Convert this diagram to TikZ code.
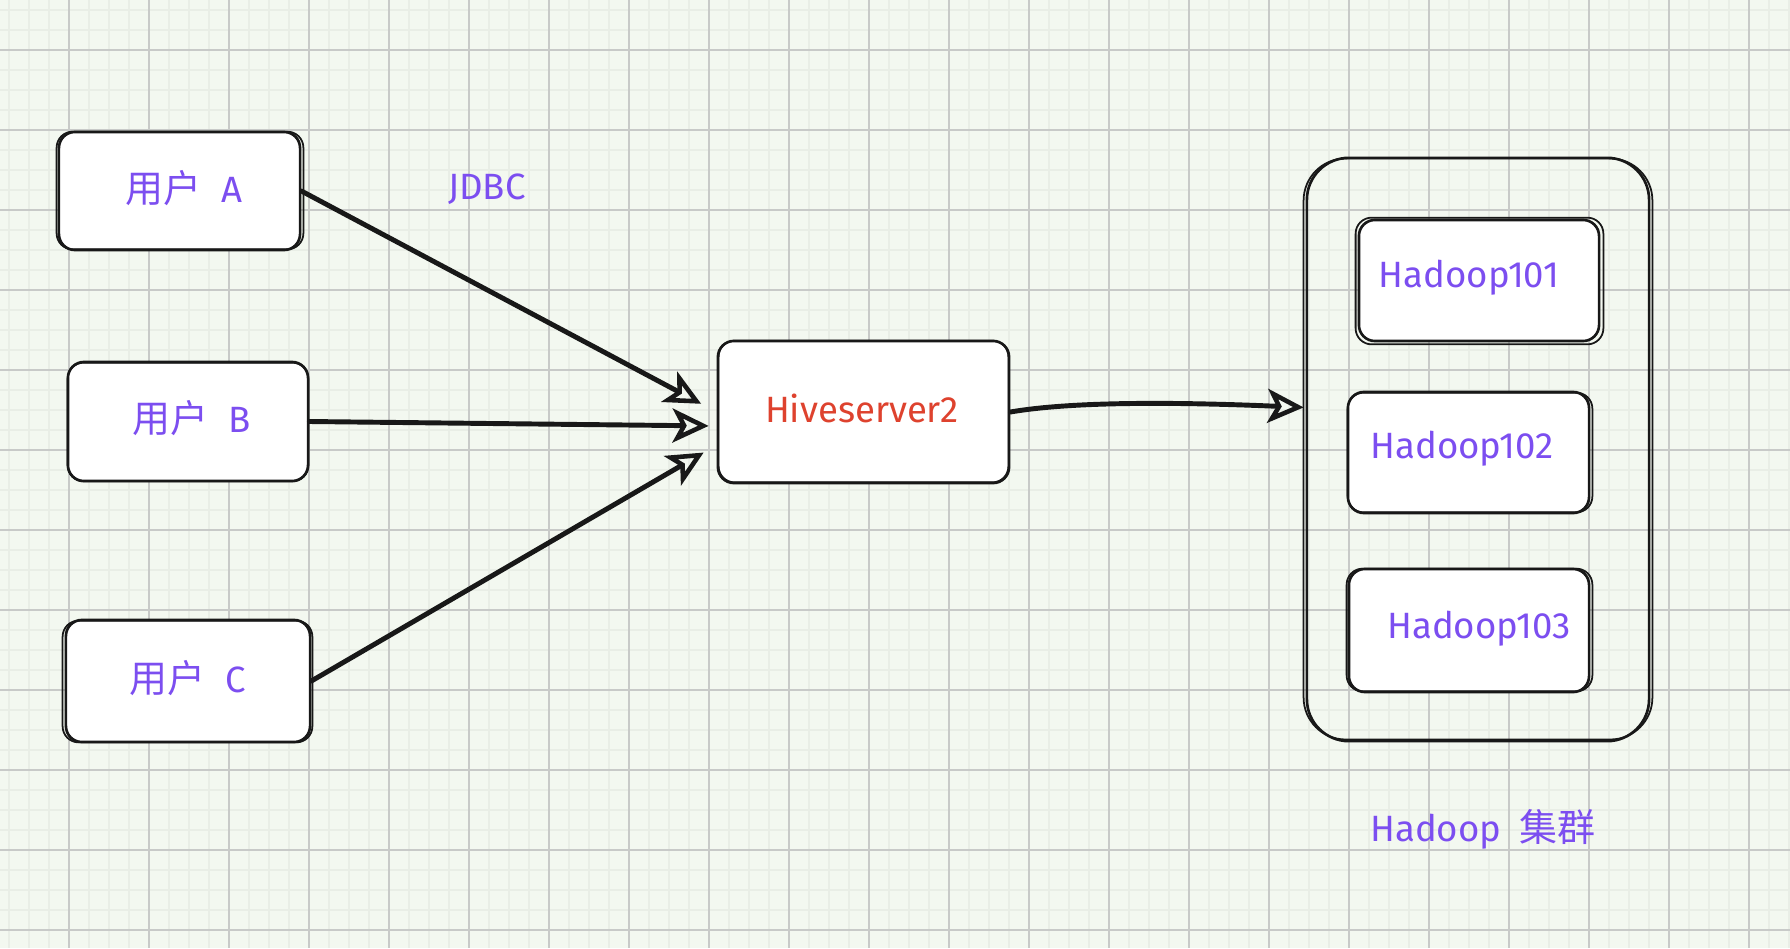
\documentclass[tikz,border=0pt]{standalone}
\usepackage{fontspec}
\setmainfont{Fira Sans}
\newfontfamily\cjk{Noto Sans CJK SC}
\usetikzlibrary{arrows.meta,calc}
\definecolor{bgc}{RGB}{243,248,240}
\definecolor{gmin}{RGB}{233,238,230}
\definecolor{gmaj}{RGB}{200,202,200}
\definecolor{purp}{RGB}{124,78,240}
\definecolor{hred}{RGB}{222,66,46}
\definecolor{ink}{RGB}{24,24,24}
\newcommand{\skline}[5]{\draw[sktwo] ($(#1.south west)+(#2,#3)$) rectangle ($(#1.north east)+(#4,#5)$);}
\begin{document}
\begin{tikzpicture}[x=0.01cm,y=-0.01cm,
  box/.style={draw=ink,fill=white,line width=0.75pt,rounded corners=0.16cm,inner sep=0pt},
  sktwo/.style={draw=ink,line width=0.5pt,rounded corners=0.16cm},
  lbl/.style={font=\fontsize{10.4}{12}\selectfont,text=purp,inner sep=0pt},
  conn/.style={draw=ink,line width=1.4pt,line cap=round,
    -{Stealth[open,length=0.36cm,width=0.34cm,inset=0.09cm,line width=1.3pt]}}]
% background and grid
\fill[bgc] (0,0) rectangle (1790,948);
\useasboundingbox (0,0) rectangle (1790,948);
\foreach \x in {9,29,...,1789} \draw[gmin,line width=0.55pt] (\x,0) -- (\x,948);
\foreach \y in {10,30,...,940} \draw[gmin,line width=0.55pt] (0,\y) -- (1790,\y);
\foreach \x in {69,149,...,1789} \draw[gmaj,line width=0.3pt] (\x,0) -- (\x,948);
\foreach \y in {50,130,...,940} \draw[gmaj,line width=0.3pt] (0,\y) -- (1790,\y);
% user boxes
\node[box,minimum width=2.41cm,minimum height=1.18cm] (A) at (179.5,191) {};
\skline{A}{-1}{-2}{2}{1}
\node[box,minimum width=2.40cm,minimum height=1.19cm] (B) at (188,421.5) {};
\skline{B}{1}{-1}{-1}{2}
\node[box,minimum width=2.44cm,minimum height=1.22cm] (C) at (188,681) {};
\skline{C}{-2}{-1}{1}{2}
\node[lbl] (tA) at (184,188) {{\cjk\fontsize{10.8}{12}\selectfont 用户}\hspace{0.55em}A};
\node[lbl] (tB) at (192,418) {{\cjk\fontsize{10.8}{12}\selectfont 用户}\hspace{0.55em}B};
\node[lbl] (tC) at (188,678) {{\cjk\fontsize{10.8}{12}\selectfont 用户}\hspace{0.55em}C};
\node[lbl] (jdbc) at (487,189) {JDBC};
% hiveserver
\node[box,minimum width=2.91cm,minimum height=1.42cm] (H) at (863.5,412) {};
\skline{H}{2}{-2}{-2}{1}
\node[lbl,text=hred] (tH) at (862,408) {Hiveserver2};
% cluster
\node[box,fill=none,minimum width=3.42cm,minimum height=5.83cm,rounded corners=0.42cm] (K) at (1478,449.5) {};
\draw[sktwo,rounded corners=0.42cm] ($(K.south west)+(-2,-3)$) rectangle ($(K.north east)+(2,2)$);
\node[box,minimum width=2.40cm,minimum height=1.21cm] (N1) at (1479,280.5) {};
\skline{N1}{-2}{2}{3}{-1}
\node[box,minimum width=2.41cm,minimum height=1.21cm] (N2) at (1468.5,452.5) {};
\skline{N2}{1}{-2}{2}{2}
\node[box,minimum width=2.40cm,minimum height=1.23cm] (N3) at (1469,630.5) {};
\skline{N3}{-1}{-2}{2}{1}
\node[lbl] (t1) at (1469,278) {Hadoop101};
\node[lbl] (t2) at (1462,449) {Hadoop102};
\node[lbl] (t3) at (1479,629) {Hadoop103};
\node[lbl] (tK) at (1483,829) {Hadoop\hspace{0.5em}{\cjk\fontsize{10.8}{12}\selectfont 集群}};
% connectors
\coordinate (hA) at (H.west);
\coordinate (hB) at ($(H.west)+(0,14)$);
\coordinate (hC) at ($(H.west)+(0,33)$);
\coordinate (kin) at ($(K.west)+(0,-42)$);
\draw[conn,shorten >=0.175cm] (A.east) -- (hA);
\draw[conn,shorten >=0.08cm] (B.east) -- (hB);
\draw[conn,shorten >=0.15cm] (C.east) -- (hC);
\draw[conn,shorten >=0.02cm] (H.east) .. controls (1080,400) and (1200,403) .. (kin);
\end{tikzpicture}
\end{document}
